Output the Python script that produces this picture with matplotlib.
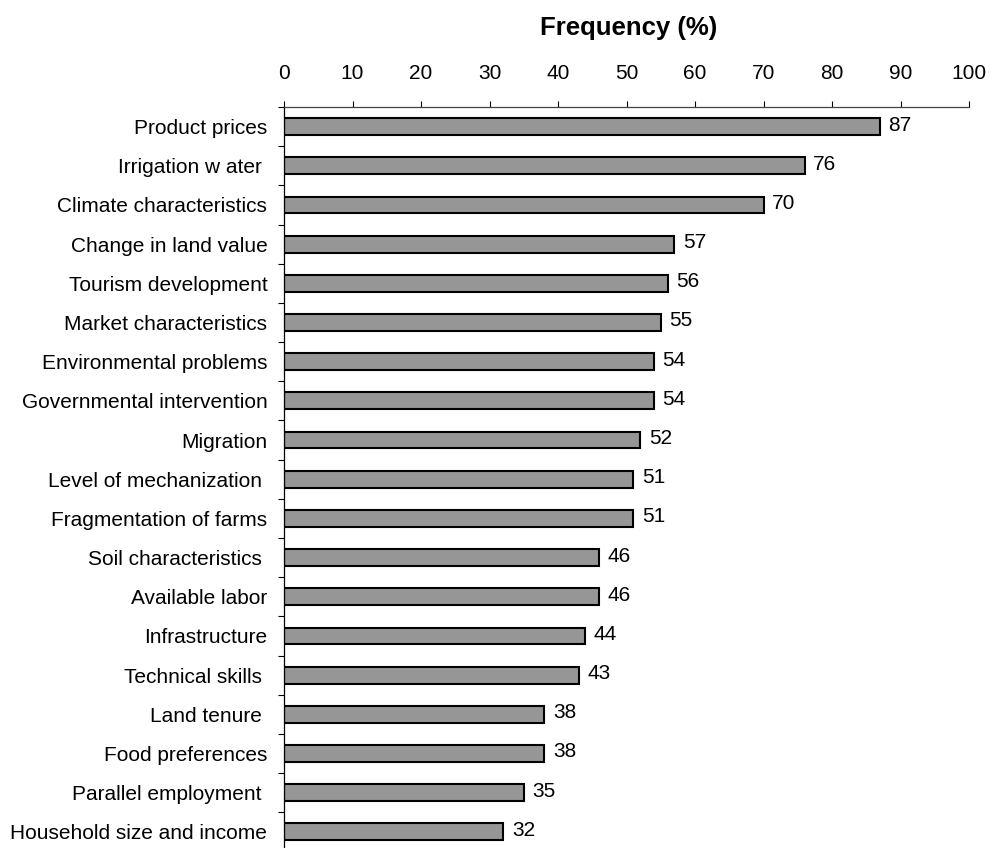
import matplotlib
matplotlib.use("Agg")
import matplotlib.pyplot as plt
import numpy as np
from matplotlib.ticker import FixedLocator

categories = ["Product prices", "Irrigation w ater ", "Climate characteristics",
              "Change in land value", "Tourism development", "Market characteristics",
              "Environmental problems", "Governmental intervention", "Migration",
              "Level of mechanization ", "Fragmentation of farms", "Soil characteristics ",
              "Available labor", "Infrastructure", "Technical skills ", "Land tenure ",
              "Food preferences", "Parallel employment ", "Household size and income"]
values = [87, 76, 70, 57, 56, 55, 54, 54, 52, 51, 51, 46, 46, 44, 43, 38, 38, 35, 32]
xticks = [0, 10, 20, 30, 40, 50, 60, 70, 80, 90, 100]

plt.rcParams['font.family'] = ['Liberation Sans', 'DejaVu Sans']

W, H = 993, 848
fig = plt.figure(figsize=(W / 100, H / 100), dpi=100)
ax_top, ax_bot = 107, 851.5
ax = fig.add_axes([284 / W, 1 - ax_bot / H, (969 - 284) / W, (ax_bot - ax_top) / H])

y = np.arange(len(categories))
ax.barh(y, values, height=0.43, color="#969696", edgecolor="black", linewidth=1.5)
for yi, v in zip(y, values):
    ax.text(v + 1.25, yi - 0.04, f"{v}", va="center", ha="left", fontsize=15)

ax.set_xlim(0, 100)
ax.set_ylim(len(categories) - 0.5, -0.5)
ax.xaxis.tick_top()
ax.set_xticks(xticks)
ax.set_xticklabels([str(t) for t in xticks], fontsize=15)
ax.tick_params(axis='x', direction='out', length=4, width=0.8, pad=13, colors='black')

ax.set_yticks(y)
ax.set_yticklabels(categories, fontsize=15)
ax.tick_params(axis='y', which='major', length=0, pad=12)
ax.yaxis.set_minor_locator(FixedLocator(np.arange(-0.5, len(categories), 1.0)))
ax.tick_params(axis='y', which='minor', length=4.5, width=0.8, direction='out')

for s in ['right', 'bottom']:
    ax.spines[s].set_visible(False)
ax.spines['top'].set_linewidth(0.9)
ax.spines['top'].set_color('#444444')
ax.spines['left'].set_linewidth(0.9)

fig.text(629 / W, 1 - 35 / H, "Frequency (%)", ha="center", va="baseline",
         fontsize=18.5, fontweight="bold")

fig.savefig("out.png", dpi=100)
